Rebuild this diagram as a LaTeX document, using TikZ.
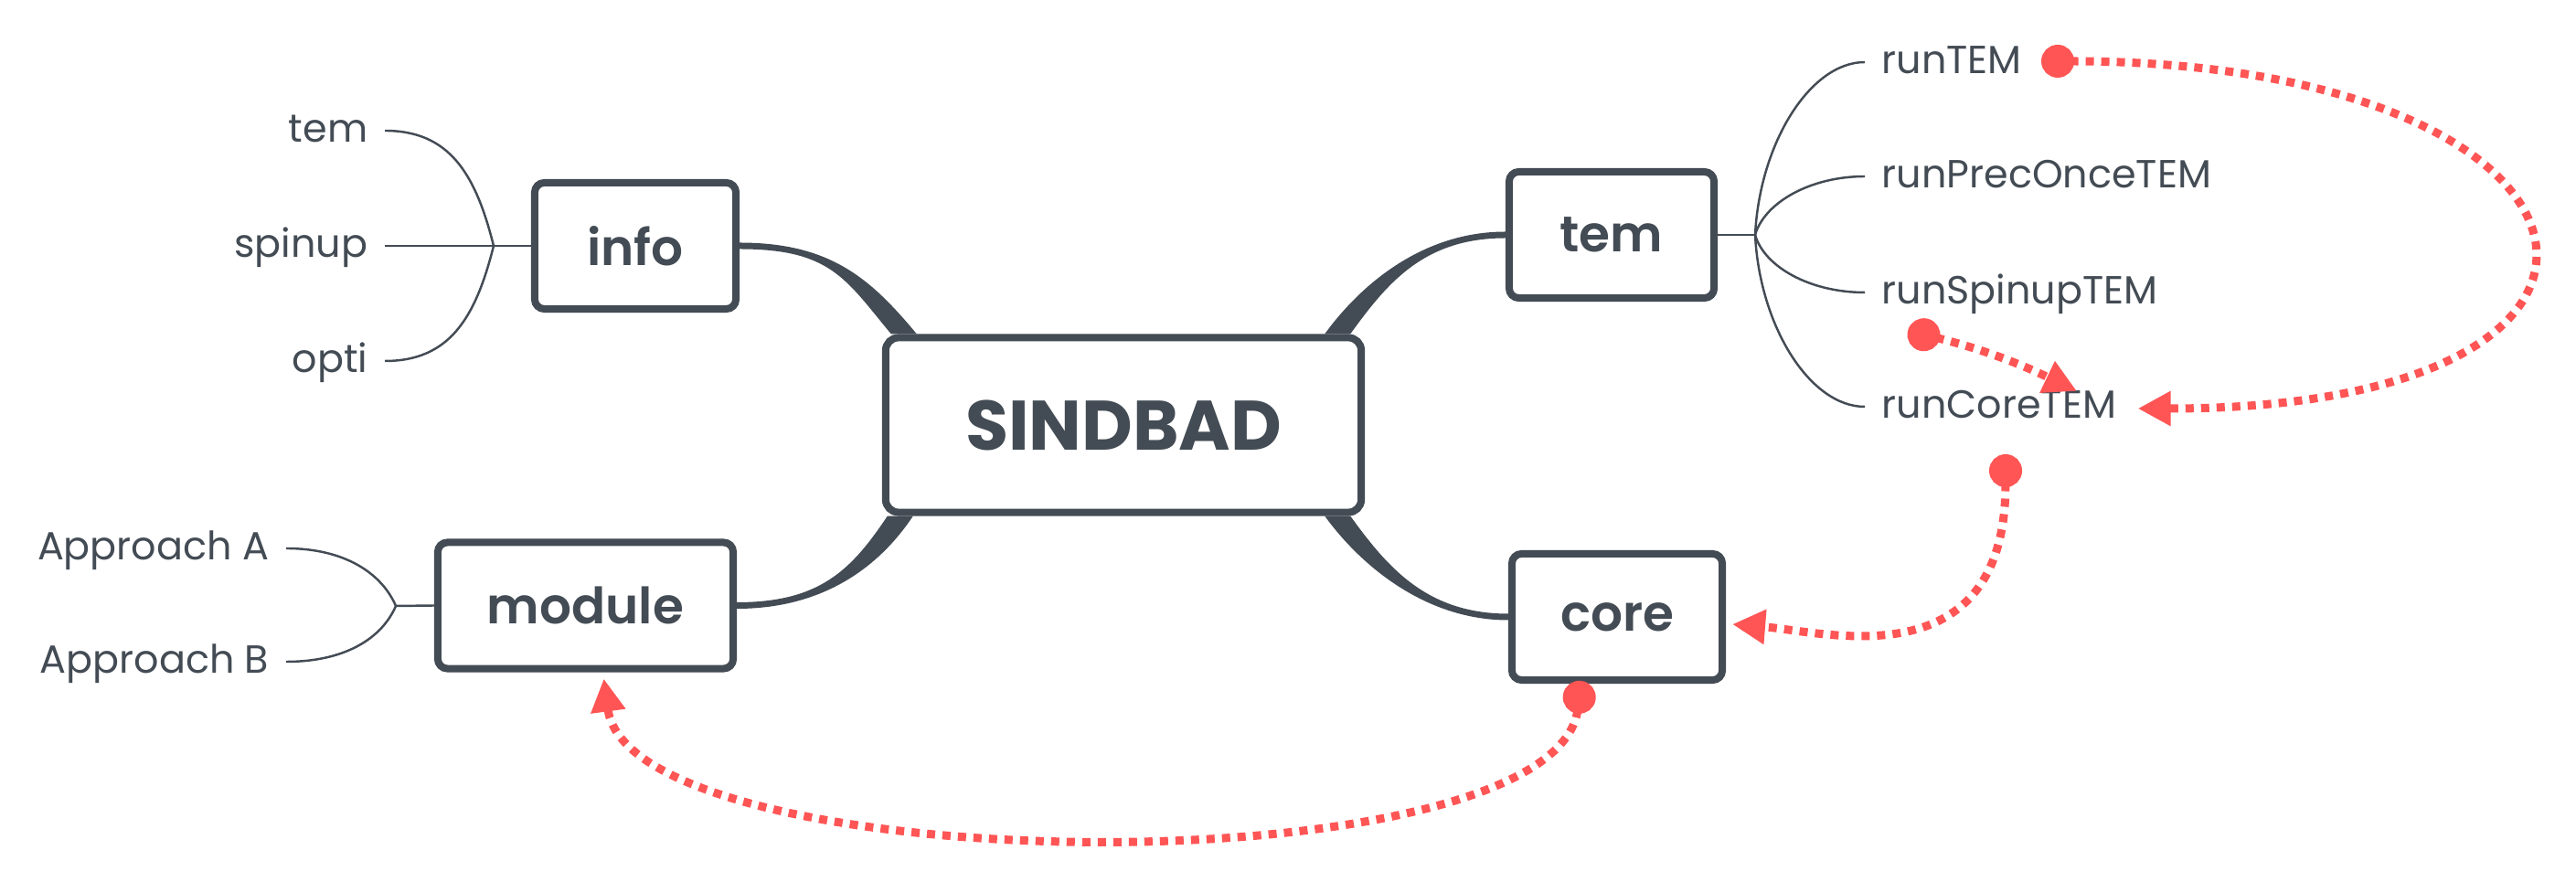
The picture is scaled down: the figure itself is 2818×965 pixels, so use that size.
\documentclass[tikz,border=0pt]{standalone}
\usepackage{fontspec}
\setmainfont{Poppins}
\IfFontExistsTF{Poppins SemiBold}{\newfontfamily\topicface{Poppins SemiBold}}{\newcommand{\topicface}{\bfseries}}
\usetikzlibrary{positioning,arrows.meta,calc}
\definecolor{mInk}{HTML}{434B54}
\definecolor{mRed}{HTML}{FF5555}
\tikzset{
 topic/.style={draw=mInk, line width=0.08cm, rounded corners=3pt, fill=white, minimum height=1.38cm, text=mInk, font=\fontsize{15.6}{16}\selectfont\topicface},
 leaf/.style={inner xsep=0.18cm, inner ysep=0pt, text height=9pt, text depth=2pt, text=mInk, font=\fontsize{12.2}{12}\selectfont},
 twig/.style={draw=mInk, line width=0.7pt},
 link/.style={draw=mRed, line width=0.09cm, dash pattern=on 0.09cm off 0.08cm, {Circle[length=0.36cm]}-{Triangle[length=0.36cm,width=0.36cm]}},
}
\newcommand{\topic}[4]{%
 \node[topic, minimum width=#4] (#2) at (#1) {#3};}
\newcommand{\limb}[6]{%
 \fill[mInk] ($#1+#5$) .. controls +#3 and +#4 .. ($#2+#6$) -- ($#2-#6$) .. controls +#4 and +#3 .. ($#1-#5$) -- cycle;}

\begin{document}
\begin{tikzpicture}[x=0.01cm, y=-0.01cm]
\useasboundingbox (0,0) rectangle (2818,965);
% topics
\node[topic, minimum width=5.2cm, minimum height=1.91cm, rounded corners=4pt, font=\fontsize{21.8}{22}\selectfont\bfseries] (root) at (1229,465) {SINDBAD};
\topic{695,269}{info}{info}{2.2cm}
\topic{640.5,662.5}{module}{module}{3.23cm}
\topic{1763,257}{tem}{tem}{2.24cm}
\topic{1769,675}{core}{core}{2.3cm}
% subtopics
\node[leaf, anchor=east] (lTem) at (421,143) {tem};
\node[leaf, anchor=east] (lSpinup) at (421,269) {spinup};
\node[leaf, anchor=east] (lOpti) at (421,395) {opti};
\node[leaf, anchor=east] (lApprA) at (313,600) {Approach A};
\node[leaf, anchor=east] (lApprB) at (313,724) {Approach B};
\node[leaf, anchor=west] (lRunTEM) at (2040,68) {runTEM};
\node[leaf, anchor=west] (lRunPrec) at (2040,193) {runPrecOnceTEM};
\node[leaf, anchor=west] (lRunSpin) at (2040,320) {runSpinupTEM};
\node[leaf, anchor=west] (lRunCore) at (2040,445) {runCoreTEM};
\coordinate (jInfo) at (540,269);
\coordinate (jMod) at (433,663);
\coordinate (jTem) at (1920,257);
% branches
\coordinate (rInfo) at ($(root.north west)+(24,0)$);
\coordinate (rMod) at ($(root.south west)+(20,0)$);
\coordinate (rTem) at ($(root.north east)+(-30,0)$);
\coordinate (rCore) at ($(root.south east)+(-30,0)$);
\limb{(rInfo)}{(info.east)}{(-50,-60)}{(100,0)}{(-14,0)}{(0,3.5)}
\limb{(rMod)}{(module.east)}{(-40,60)}{(90,0)}{(14,0)}{(0,3.5)}
\limb{(rTem)}{(tem.west)}{(40,-55)}{(-90,0)}{(-14,0)}{(0,-3.5)}
\limb{(rCore)}{(core.west)}{(40,55)}{(-90,0)}{(14,0)}{(0,-3.5)}
\draw[twig] (info.west) -- (jInfo) -- (lSpinup.east);
\draw[twig] (lTem.east) .. controls +(70,0) and +(-20,-80) .. (jInfo);
\draw[twig] (lOpti.east) .. controls +(70,0) and +(-20,80) .. (jInfo);
\draw[twig] (module.west) -- (jMod);
\draw[twig] (lApprA.east) .. controls +(65,0) and +(-15,-35) .. (jMod);
\draw[twig] (lApprB.east) .. controls +(65,0) and +(-15,35) .. (jMod);
\draw[twig] (tem.east) -- (jTem);
\draw[twig] (jTem) .. controls +(5,-100) and +(-60,0) .. (lRunTEM.west);
\draw[twig] (jTem) .. controls +(10,-35) and +(-60,0) .. (lRunPrec.west);
\draw[twig] (jTem) .. controls +(10,35) and +(-60,0) .. (lRunSpin.west);
\draw[twig] (jTem) .. controls +(5,100) and +(-60,0) .. (lRunCore.west);
% relationships
\coordinate (d1) at (2233,67);
\coordinate (d2) at (2087,362);
\coordinate (d3) at (2194,497);
\coordinate (d4) at (1730,745);
\draw[link] (d1) .. controls +(650,0) and +(625,0) .. ($(lRunCore.east)+(5,2)$);
\draw[link] (d2) to[bend left=6] ($(lRunCore.north west)+(232,3)$);
\draw[link] (d3) .. controls +(0,250) and +(100,8) .. ($(core.east)+(7,8)$);
\draw[link] (d4) .. controls +(-30,230) and +(30,222) .. ($(module.south)+(20,7)$);
\end{tikzpicture}
\end{document}
